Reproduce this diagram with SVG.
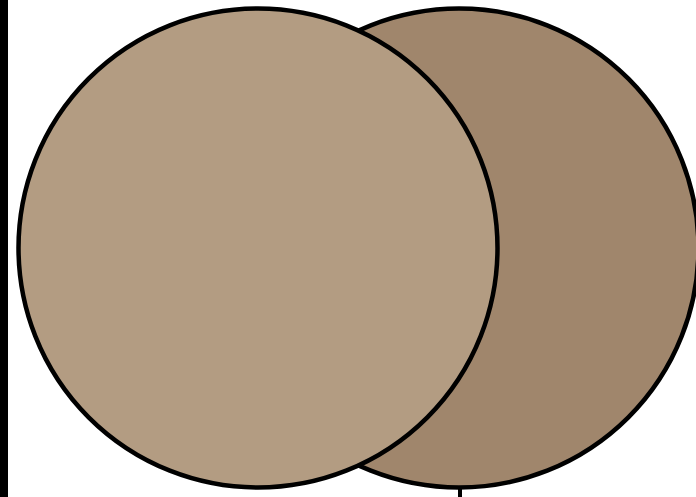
<svg xmlns="http://www.w3.org/2000/svg" width="696" height="497" viewBox="0 0 696 497">
<style>
.c{stroke:#000;stroke-width:4.5}
</style>
<rect x="0" y="0" width="696" height="497" fill="#fff"/>
<rect x="0" y="0" width="8" height="497" fill="#000"/>
<g id="connectors">
<line x1="460" y1="486" x2="460" y2="497" stroke="#000" stroke-width="4"/>
</g>
<g id="right-circle">
<circle class="c" cx="459" cy="248" r="239.5" fill="#A0866C"/>
</g>
<g id="left-circle">
<circle class="c" cx="258" cy="248" r="239.5" fill="#B39C82"/>
</g>
</svg>
